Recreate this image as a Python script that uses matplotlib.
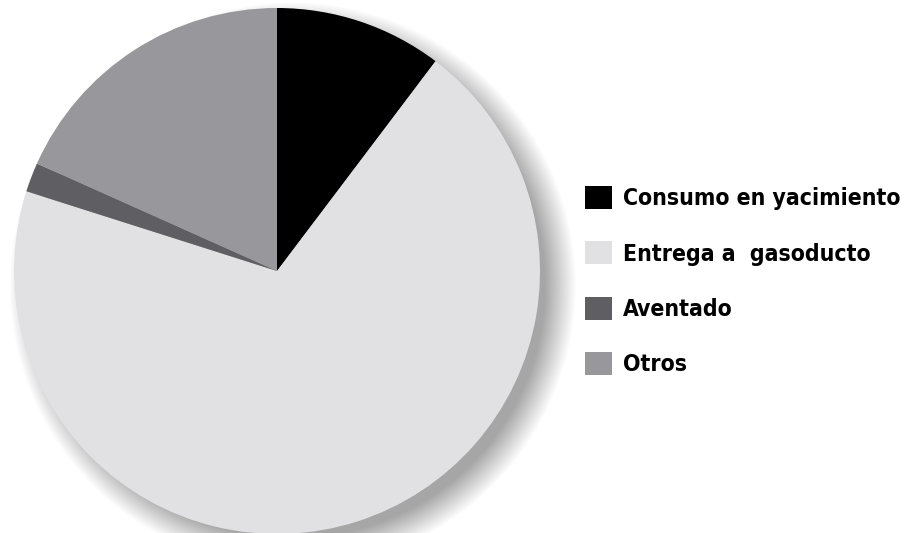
import matplotlib.pyplot as plt
from matplotlib.patches import Circle

labels = ["Consumo en yacimiento", "Entrega a  gasoducto", "Aventado", "Otros"]
values = [10.3, 69.6, 1.8, 18.3]
colors = ["#000000", "#e1e1e3", "#5f5f63", "#98989c"]

plt.rcParams['font.family'] = ['DejaVu Sans']
plt.rcParams['font.stretch'] = 'condensed'

fig = plt.figure(figsize=(9.17, 5.33), dpi=100)
ax = fig.add_axes([14 / 917, -1 / 533, 526 / 917, 526 / 533])

# soft shadow to the lower right
for i in range(30):
    r = 0.96 + i * 0.004
    ax.add_patch(Circle((0.06, -0.055), r, color="#000000", alpha=0.012,
                        lw=0, zorder=0, clip_on=False))

wedges, _ = ax.pie(values, colors=colors, startangle=90, counterclock=False,
                   radius=1, wedgeprops=dict(linewidth=0))
for w in wedges:
    w.set_zorder(2)

ax.set_xlim(-1, 1)
ax.set_ylim(-1, 1)
ax.set_aspect("equal")
ax.axis("off")

fig.legend(wedges, labels, loc="upper left", bbox_to_anchor=(576 / 917, 1 - 177 / 533),
           frameon=False, prop=dict(weight="bold", size=16.5, stretch="condensed"),
           handlelength=1.15, handleheight=1.15, handletextpad=0.5,
           labelspacing=1.36, borderaxespad=0)

fig.savefig("out.png", dpi=100)
